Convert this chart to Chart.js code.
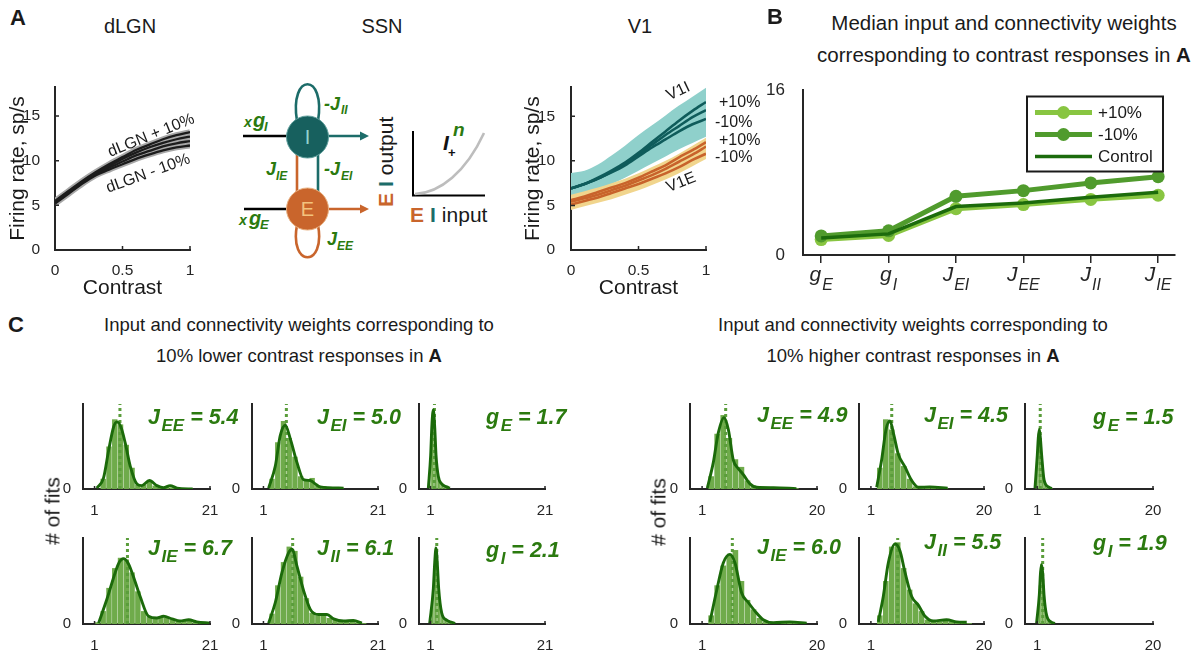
<!DOCTYPE html>
<html><head><meta charset="utf-8">
<script src="https://cdn.jsdelivr.net/npm/chart.js@4.4.1/dist/chart.umd.min.js"></script>
<style>
html,body{margin:0;padding:0;background:#fff;}
#fig{position:relative;width:1201px;height:650px;overflow:hidden;font-family:'Liberation Sans',Arial,Helvetica,sans-serif;color:#1a1a1a;background:#fff;}
#fig canvas{position:absolute;z-index:2;}
.t{position:absolute;white-space:nowrap;line-height:1;z-index:5;}
</style></head><body><div id="fig"></div>
<script>
// ================= DATA =================
// Panel A
const contrast = [0, 0.1, 0.2, 0.3, 0.4, 0.5, 0.6, 0.7, 0.8, 0.9, 1];
const aXTicks = [0, 0.5, 1];
const aYTicks = [0, 5, 10, 15];
const dlgnUp10 = [5.5, 6.6, 7.7, 8.7, 9.6, 10.4, 11.2, 11.8, 12.4, 12.85, 13.2];
const dlgnUp3  = [5.4, 6.5, 7.6, 8.6, 9.4, 10.2, 10.9, 11.5, 12.0, 12.4, 12.7];
const dlgnDn3  = [5.3, 6.4, 7.5, 8.5, 9.2, 9.9, 10.6, 11.1, 11.6, 11.95, 12.2];
const dlgnDn10 = [5.2, 6.3, 7.4, 8.35, 9.0, 9.6, 10.2, 10.7, 11.15, 11.5, 11.7];
const v1IBandUp = [8.65, 8.9, 9.6, 10.6, 11.7, 12.9, 14.0, 15.1, 16.2, 17.2, 18.2];
const v1IBandLo = [6.0, 6.3, 6.8, 7.4, 8.1, 8.9, 9.7, 10.5, 11.3, 12.0, 12.7];
const v1IPlus   = [6.9, 7.4, 8.1, 8.9, 9.8, 10.9, 12.1, 13.3, 14.5, 15.6, 16.6];
const v1ICtrl   = [6.9, 7.4, 8.0, 8.8, 9.7, 10.7, 11.8, 12.9, 13.9, 14.9, 15.7];
const v1IMinus  = [6.9, 7.4, 8.0, 8.7, 9.5, 10.5, 11.5, 12.4, 13.3, 14.1, 14.7];
const v1EBandUp = [6.2, 6.6, 7.0, 7.5, 8.0, 8.6, 9.3, 10.0, 10.8, 11.7, 12.6];
const v1EBandLo = [4.5, 4.9, 5.3, 5.7, 6.2, 6.7, 7.3, 7.9, 8.6, 9.4, 10.2];
const v1EPlus   = [5.6, 6.0, 6.5, 7.0, 7.5, 8.1, 8.8, 9.5, 10.4, 11.2, 12.1];
const v1ECtrl   = [5.4, 5.8, 6.2, 6.7, 7.2, 7.8, 8.4, 9.1, 9.9, 10.7, 11.6];
const v1EMinus  = [5.1, 5.5, 5.9, 6.4, 6.9, 7.4, 8.0, 8.6, 9.3, 10.1, 10.8];

// Panel B
const bCatMain = ['g', 'g', 'J', 'J', 'J', 'J'];
const bCatSub  = ['E', 'I', 'EI', 'EE', 'II', 'IE'];
const bYTicks  = [0, 16];
const bPlus10  = [1.5, 1.9, 4.5, 4.9, 5.4, 5.8];
const bMinus10 = [1.85, 2.35, 5.7, 6.25, 7.0, 7.6];
const bControl = [1.65, 2.05, 4.7, 5.05, 5.6, 6.1];

// Panel C
const paramMain = ['J', 'J', 'g', 'J', 'J', 'g'];
const paramSub  = ['EE', 'EI', 'E', 'IE', 'II', 'I'];
const medLower  = [5.4, 5.0, 1.7, 6.7, 6.1, 2.1];
const medHigher = [4.9, 4.5, 1.5, 6.0, 5.5, 1.9];
const cXTicksLower  = [1, 21];
const cXTicksHigher = [1, 20];
const cYTicks = [0];
const jBins = [0.5, 1.5, 2.5, 3.5, 4.5, 5.5, 6.5, 7.5, 8.5, 9.5, 10.5, 11.5, 12.5, 13.5, 14.5, 15.5, 16.5, 17.5, 18.5, 19.5, 20.5];
const gBins = [0.625, 0.875, 1.125, 1.375, 1.625, 1.875, 2.125, 2.375, 2.625, 2.875, 3.125, 3.375, 3.625, 3.875, 4.125, 4.375, 4.625, 4.875];

const lowJEEcnt = [0, 0, 0.12, 0.5, 0.82, 0.76, 0.52, 0.25, 0.05, 0.05, 0.09, 0.04, 0.02, 0.03, 0.02, 0.01, 0.01, 0.01, 0, 0, 0];
const lowJEEkx  = [1.4, 2.56, 3.43, 4.3, 4.88, 5.57, 6.32, 7.18, 8.34, 9.2, 10.5, 11.8, 12.95, 14.1, 15.3, 18];
const lowJEEky  = [0.01, 0.13, 0.45, 0.73, 0.79, 0.73, 0.54, 0.27, 0.06, 0.04, 0.10, 0.04, 0.015, 0.04, 0.01, 0];
const lowJEIcnt = [0, 0, 0.12, 0.55, 0.8, 0.6, 0.38, 0.15, 0.1, 0.13, 0.04, 0.03, 0.02, 0.02, 0.01, 0, 0, 0, 0, 0, 0];
const lowJEIkx  = [1.9, 3.07, 3.94, 4.81, 5.69, 6.86, 8.0, 9.18, 10.05, 10.9, 15.0];
const lowJEIky  = [0.01, 0.27, 0.63, 0.75, 0.59, 0.31, 0.11, 0.1, 0.06, 0.025, 0.01];
const lowGEcnt  = [0, 0.05, 0.5, 0.9, 0.85, 0.5, 0.25, 0.12, 0.08, 0.05, 0.04, 0.03, 0.03, 0.02, 0.01, 0, 0, 0];
const lowGEkx   = [0.63, 1.04, 1.25, 1.5, 1.75, 1.97, 2.37, 2.96, 3.83, 4.4];
const lowGEky   = [0.01, 0.4, 0.75, 0.93, 0.72, 0.4, 0.15, 0.06, 0.025, 0.01];
const lowJIEcnt = [0, 0.02, 0.15, 0.42, 0.65, 0.77, 0.75, 0.6, 0.38, 0.15, 0.08, 0.07, 0.08, 0.07, 0.05, 0.04, 0.04, 0.05, 0.03, 0.02, 0.01];
const lowJIEkx  = [1.7, 3.15, 4.59, 5.3, 6.03, 6.8, 7.48, 8.9, 10.35, 11.8, 12.95, 14.4, 15.8, 17.3, 18.7, 21];
const lowJIEky  = [0.01, 0.29, 0.6, 0.72, 0.76, 0.71, 0.6, 0.32, 0.09, 0.07, 0.09, 0.06, 0.035, 0.05, 0.025, 0.01];
const lowJIIcnt = [0, 0, 0.12, 0.45, 0.72, 0.9, 0.85, 0.55, 0.3, 0.13, 0.1, 0.12, 0.07, 0.05, 0.03, 0.03, 0.04, 0.02, 0.01, 0, 0];
const lowJIIkx  = [1.9, 3.07, 4.24, 5.4, 5.98, 6.86, 8.0, 9.18, 10.6, 12.1, 13.25, 15.0, 16.7, 18.2];
const lowJIIky  = [0.01, 0.25, 0.6, 0.83, 0.87, 0.67, 0.39, 0.17, 0.11, 0.11, 0.06, 0.035, 0.04, 0.01];
const lowGIcnt  = [0, 0, 0.05, 0.3, 0.65, 0.9, 0.8, 0.45, 0.25, 0.15, 0.08, 0.06, 0.05, 0.04, 0.03, 0.03, 0.02, 0.01];
const lowGIkx   = [0.87, 1.5, 1.75, 1.97, 2.2, 2.44, 2.96, 3.83, 4.7, 5.3];
const lowGIky   = [0.01, 0.41, 0.72, 0.88, 0.7, 0.41, 0.13, 0.045, 0.02, 0.005];

const hiJEEcnt = [0, 0, 0.15, 0.65, 0.87, 0.6, 0.35, 0.26, 0.1, 0.04, 0.02, 0.02, 0.02, 0.01, 0.01, 0.01, 0.01, 0, 0, 0, 0];
const hiJEEkx  = [1.86, 2.85, 3.68, 4.62, 5.34, 6.16, 6.99, 7.82, 8.92, 10.0, 12.8, 16.6];
const hiJEEky  = [0.01, 0.31, 0.66, 0.84, 0.7, 0.34, 0.24, 0.17, 0.06, 0.02, 0.015, 0.005];
const hiJEIcnt = [0, 0, 0.25, 0.82, 0.7, 0.42, 0.27, 0.12, 0.03, 0.02, 0.03, 0.02, 0.01, 0.01, 0, 0, 0, 0, 0, 0, 0];
const hiJEIkx  = [1.97, 2.8, 3.54, 4.2, 4.87, 5.6, 6.73, 7.85, 8.97, 10.9, 13.9];
const hiJEIky  = [0.02, 0.34, 0.7, 0.8, 0.63, 0.41, 0.26, 0.1, 0.02, 0.025, 0.01];
const hiGEcnt  = [0, 0.1, 0.55, 0.72, 0.45, 0.25, 0.12, 0.06, 0.04, 0.03, 0.02, 0.01, 0, 0, 0, 0, 0, 0];
const hiGEkx   = [0.64, 1.02, 1.18, 1.35, 1.52, 1.73, 2.12, 2.83, 3.4];
const hiGEky   = [0.01, 0.4, 0.6, 0.7, 0.6, 0.4, 0.11, 0.025, 0.005];
const hiJIEcnt = [0, 0, 0.1, 0.45, 0.68, 0.8, 0.86, 0.5, 0.28, 0.17, 0.07, 0.03, 0.02, 0.02, 0.02, 0.025, 0.02, 0.01, 0, 0, 0];
const hiJIEkx  = [2.3, 3.41, 4.5, 5.6, 6.44, 7.54, 8.64, 9.74, 11.1, 12.8, 15.5, 18.3];
const hiJIEky  = [0.025, 0.39, 0.71, 0.81, 0.71, 0.36, 0.25, 0.15, 0.05, 0.015, 0.025, 0.01];
const hiJIIcnt = [0, 0, 0.1, 0.5, 0.9, 0.95, 0.65, 0.4, 0.24, 0.15, 0.05, 0.03, 0.03, 0.05, 0.03, 0.02, 0.02, 0.01, 0, 0, 0];
const hiJIIkx  = [2.24, 3.08, 3.92, 5.05, 5.89, 6.73, 7.85, 8.97, 10.1, 11.5, 13.7, 15.4, 17.1];
const hiJIIky  = [0.025, 0.32, 0.71, 0.93, 0.85, 0.6, 0.32, 0.22, 0.09, 0.035, 0.05, 0.025, 0.02];
const hiGIcnt  = [0, 0, 0.12, 0.45, 0.7, 0.6, 0.35, 0.18, 0.1, 0.05, 0.04, 0.03, 0.02, 0, 0, 0, 0, 0];
const hiGIkx   = [0.9, 1.35, 1.55, 1.73, 1.92, 2.12, 2.55, 3.37, 3.9];
const hiGIky   = [0.01, 0.34, 0.6, 0.69, 0.58, 0.34, 0.1, 0.02, 0.005];

// ================= HELPERS =================
const FONT = "'Liberation Sans', Arial, Helvetica, sans-serif";
const fig = document.getElementById('fig');
Chart.defaults.font.family = FONT;
Chart.defaults.color = '#262626';
Chart.defaults.plugins.legend.display = false;
Chart.defaults.plugins.tooltip.enabled = false;

const inTicks = {
  id: 'inTicks',
  afterDraw(chart, args, opts) {
    if (!opts || !opts.len) return;
    const {ctx, chartArea: a, scales} = chart;
    ctx.save();
    ctx.strokeStyle = '#262626'; ctx.lineWidth = 1.5;
    ctx.beginPath();
    scales.x.ticks.forEach(t => { const p = scales.x.getPixelForValue(t.value); ctx.moveTo(p, a.bottom); ctx.lineTo(p, a.bottom - opts.len); });
    if (opts.y !== false) scales.y.ticks.forEach(t => { const p = scales.y.getPixelForValue(t.value); ctx.moveTo(a.left, p); ctx.lineTo(a.left + opts.len, p); });
    ctx.stroke(); ctx.restore();
  }
};
Chart.register(inTicks);

function pts(xs, ys) { return xs.map((x, i) => ({x: x, y: ys[i]})); }

function makeChart(box, area, cfg) {
  const c = document.createElement('canvas');
  c.width = box.w; c.height = box.h;
  c.style.left = box.x + 'px'; c.style.top = box.y + 'px';
  c.style.width = box.w + 'px'; c.style.height = box.h + 'px';
  fig.appendChild(c);
  const o = cfg.options;
  o.responsive = false; o.animation = false; o.devicePixelRatio = 1;
  o.layout = {padding: {left: 0, top: area.t - box.y, right: box.x + box.w - area.r, bottom: 0}};
  o.scales.x.afterFit = s => { s.height = box.y + box.h - area.b; };
  o.scales.y.afterFit = s => { s.width = area.l - box.x; };
  return new Chart(c, cfg);
}

function T(x, base, html, size, opt) {
  opt = opt || {};
  const d = document.createElement('div');
  d.className = 't';
  d.style.left = x + 'px';
  d.style.top = (base - 0.8465 * size) + 'px';
  d.style.fontSize = size + 'px';
  if (opt.bold) d.style.fontWeight = 'bold';
  if (opt.italic) d.style.fontStyle = 'italic';
  d.style.color = opt.color || '#1a1a1a';
  if (opt.center) d.style.transform = 'translateX(-50%)';
  d.innerHTML = html;
  fig.appendChild(d);
  return d;
}
function R(cx, cy, html, size, deg, opt) {
  opt = opt || {};
  const d = document.createElement('div');
  d.className = 't';
  d.style.left = cx + 'px'; d.style.top = cy + 'px';
  d.style.fontSize = size + 'px';
  d.style.color = opt.color || '#1a1a1a';
  d.style.transform = 'translate(-50%,-50%) rotate(' + deg + 'deg)';
  d.innerHTML = html;
  fig.appendChild(d);
}

const AX = {display: true, color: '#262626', width: 2};

function aScales(box, area, ytx, xty, ymax, ypad) {
  return {
    x: {type: 'linear', min: 0, max: 1, offset: false,
        afterBuildTicks: s => { s.ticks = aXTicks.map(v => ({value: v})); },
        ticks: {font: {size: 15.5}, padding: 3.6, maxRotation: 0, color: '#262626', callback: v => String(v)},
        grid: {display: false}, border: AX,
        title: {display: true, text: 'Contrast', color: '#1a1a1a', font: {size: 21, lineHeight: 1.2},
                padding: {top: 0, bottom: box.y + box.h - xty - 12.6}}},
    y: {type: 'linear', min: 0, max: ymax,
        afterBuildTicks: s => { s.ticks = aYTicks.map(v => ({value: v})); },
        ticks: {font: {size: 15.5}, padding: ypad, color: '#262626', callback: v => String(v)},
        grid: {display: false}, border: AX,
        title: {display: true, text: 'Firing rate, sp/s', color: '#1a1a1a', font: {size: 21, lineHeight: 1.2},
                padding: {top: ytx - box.x - 12.6, bottom: 0}}}
  };
}
function ln(data, color, w, order, extra) {
  return Object.assign({type: 'line', data: pts(contrast, data), borderColor: color, borderWidth: w,
    pointRadius: 0, fill: false, cubicInterpolationMode: 'monotone', order: order}, extra || {});
}

// ================= PANEL A: dLGN =================
(function () {
  const box = {x: 0, y: 70, w: 200, h: 240};
  const area = {l: 55, t: 87, r: 190, b: 250};
  const gray = '#a8a8a8', blk = '#1c1c1c';
  makeChart(box, area, {
    type: 'line',
    data: {datasets: [
      ln(dlgnUp10, gray, 6, 2), ln(dlgnUp3, gray, 6, 2), ln(dlgnDn3, gray, 6, 2), ln(dlgnDn10, gray, 6, 2),
      ln(dlgnUp10, blk, 2.3, 1), ln(dlgnUp3, blk, 2.3, 1), ln(dlgnDn3, blk, 2.3, 1), ln(dlgnDn10, blk, 2.3, 1)
    ]},
    options: {scales: aScales(box, area, 18, 288, 18.25, 7), plugins: {inTicks: {len: 4}}}
  });
})();

// ================= PANEL A: V1 =================
(function () {
  const box = {x: 510, y: 70, w: 206, h: 240};
  const area = {l: 571, t: 87, r: 706, b: 250};
  const teal = '#0f5c5b', orange = '#c8632b';
  makeChart(box, area, {
    type: 'line',
    data: {datasets: [
      ln(v1IBandUp, 'rgba(0,0,0,0)', 0, 6, {fill: '+1', backgroundColor: '#8fd0cb'}),
      ln(v1IBandLo, 'rgba(0,0,0,0)', 0, 6),
      ln(v1EBandUp, 'rgba(0,0,0,0)', 0, 5, {fill: '+1', backgroundColor: '#f1d58d'}),
      ln(v1EBandLo, 'rgba(0,0,0,0)', 0, 5),
      ln(v1IPlus, teal, 2.6, 3), ln(v1ICtrl, teal, 2.6, 3), ln(v1IMinus, teal, 2.6, 3),
      ln(v1EPlus, orange, 2.6, 2), ln(v1ECtrl, orange, 2.6, 2), ln(v1EMinus, orange, 2.6, 2)
    ]},
    options: {scales: aScales(box, area, 533, 288, 18.25, 8), plugins: {inTicks: {len: 4}}}
  });
})();

// ================= PANEL B =================
(function () {
  const box = {x: 760, y: 70, w: 430, h: 230};
  const area = {l: 803, t: 81.7, r: 1175, b: 255};
  const cHi = '#88c541', cLo = '#509b2d', cCtrl = '#1c6b0c';
  const legendRows = [
    {label: '+10%', color: cHi, w: 5, r: 6.5},
    {label: '-10%', color: cLo, w: 5, r: 6.5},
    {label: 'Control', color: cCtrl, w: 3.5, r: 0}
  ];
  const bPlugin = {
    id: 'bDeco',
    afterDraw(chart) {
      const {ctx, chartArea: a, scales: {x}} = chart;
      ctx.save();
      ctx.fillStyle = '#262626';
      ctx.textBaseline = 'alphabetic';
      bCatMain.forEach((m, i) => {
        const px = x.getPixelForValue(i);
        ctx.font = 'italic 21px ' + FONT; const w1 = ctx.measureText(m).width;
        ctx.font = 'italic 16px ' + FONT; const w2 = ctx.measureText(bCatSub[i]).width;
        const st = px - (w1 + 1 + w2) / 2;
        ctx.font = 'italic 21px ' + FONT; ctx.fillText(m, st, a.bottom + 26);
        ctx.font = 'italic 16px ' + FONT; ctx.fillText(bCatSub[i], st + w1 + 1, a.bottom + 35);
      });
      // legend box
      const L = a.right - 148, R2 = a.right - 12, Tp = a.top + 6.3, B = a.top + 81.3;
      ctx.fillStyle = '#fff'; ctx.fillRect(L, Tp, R2 - L, B - Tp);
      ctx.strokeStyle = '#1a1a1a'; ctx.lineWidth = 2; ctx.strokeRect(L, Tp, R2 - L, B - Tp);
      legendRows.forEach((r, k) => {
        const y = Tp + 16 + 22 * k;
        ctx.strokeStyle = r.color; ctx.lineWidth = r.w; ctx.lineCap = 'butt';
        ctx.beginPath(); ctx.moveTo(L + 8, y); ctx.lineTo(L + 65, y); ctx.stroke();
        if (r.r) { ctx.fillStyle = r.color; ctx.beginPath(); ctx.arc(L + 36.5, y, r.r, 0, Math.PI * 2); ctx.fill(); }
        ctx.fillStyle = '#1a1a1a'; ctx.font = '17px ' + FONT; ctx.textBaseline = 'middle';
        ctx.fillText(r.label, L + 71, y + 1);
      });
      ctx.restore();
    }
  };
  const idx = bPlus10.map((v, i) => i);
  makeChart(box, area, {
    type: 'line',
    data: {datasets: [
      {data: pts(idx, bControl), borderColor: cCtrl, borderWidth: 3.5, pointRadius: 0, order: 0},
      {data: pts(idx, bMinus10), borderColor: cLo, backgroundColor: cLo, borderWidth: 5, pointRadius: 6.5, pointBorderWidth: 0, order: 1},
      {data: pts(idx, bPlus10), borderColor: cHi, backgroundColor: cHi, borderWidth: 5, pointRadius: 6.5, pointBorderWidth: 0, order: 2}
    ]},
    options: {
      scales: {
        x: {type: 'linear', min: -0.27, max: 5.25, offset: false,
            afterBuildTicks: s => { s.ticks = idx.map(v => ({value: v})); },
            ticks: {display: false},
            grid: {display: true, drawOnChartArea: false, drawTicks: true, tickLength: 8, color: '#262626', lineWidth: 1.5},
            border: AX},
        y: {type: 'linear', min: 0, max: 16,
            afterBuildTicks: s => { s.ticks = bYTicks.map(v => ({value: v})); },
            ticks: {font: {size: 17}, padding: 10, color: '#262626', callback: v => String(v)},
            grid: {display: false}, border: AX}
      },
      plugins: {inTicks: {len: 0}}
    },
    plugins: [bPlugin]
  });
})();

// ================= PANEL C =================
function hist(area, xmax, xTicks, bins, counts, kx, ky, med) {
  const box = {x: area.l - 24, y: area.t - 4, w: area.r - area.l + 24 + 14, h: area.b - area.t + 4 + 26};
  makeChart(box, area, {
    type: 'line',
    data: {datasets: [
      {type: 'line', data: pts(kx, ky), borderColor: '#1b6a0a', borderWidth: 2.9, pointRadius: 0,
       cubicInterpolationMode: 'monotone', order: 1},
      {type: 'line', data: [{x: med, y: 0}, {x: med, y: 1}], borderColor: '#5a9d3b', borderWidth: 3,
       borderDash: [3, 3], pointRadius: 0, order: 2},
      {type: 'bar', data: pts(bins, counts), backgroundColor: '#6fab4b', barPercentage: 1,
       categoryPercentage: 0.94, order: 3}
    ]},
    options: {
      scales: {
        x: {type: 'linear', min: -1, max: xmax, offset: false,
            afterBuildTicks: s => { s.ticks = xTicks.map(v => ({value: v})); },
            ticks: {font: {size: 15}, padding: 5, maxRotation: 0, color: '#262626', callback: v => String(v)},
            grid: {display: false, offset: false}, border: AX},
        y: {type: 'linear', min: 0, max: 1,
            afterBuildTicks: s => { s.ticks = cYTicks.map(v => ({value: v})); },
            ticks: {font: {size: 15}, padding: 4, color: '#262626', callback: v => String(v)},
            grid: {display: false}, border: AX}
      },
      plugins: {inTicks: {len: 3, y: false}}
    }
  });
}
const rowsTB = [[395, 489], [529, 624]];
const colsLower = [[82.7, 210], [251.7, 377.7], [419, 545]];
const colsHigher = [[690, 817], [859, 984], [1025, 1153]];
const lowerSets = [
  [jBins, lowJEEcnt, lowJEEkx, lowJEEky], [jBins, lowJEIcnt, lowJEIkx, lowJEIky], [gBins, lowGEcnt, lowGEkx, lowGEky],
  [jBins, lowJIEcnt, lowJIEkx, lowJIEky], [jBins, lowJIIcnt, lowJIIkx, lowJIIky], [gBins, lowGIcnt, lowGIkx, lowGIky]
];
const higherSets = [
  [jBins, hiJEEcnt, hiJEEkx, hiJEEky], [jBins, hiJEIcnt, hiJEIkx, hiJEIky], [gBins, hiGEcnt, hiGEkx, hiGEky],
  [jBins, hiJIEcnt, hiJIEkx, hiJIEky], [jBins, hiJIIcnt, hiJIIkx, hiJIIky], [gBins, hiGIcnt, hiGIkx, hiGIky]
];
const lowerLabelPos = [[148, 425], [317, 425], [486, 425], [148, 556], [317, 556], [486, 558]];
const higherLabelPos = [[757, 423], [924, 423], [1093, 425], [757, 555], [924, 550], [1093, 551]];
const subHtml = s => '<span style="font-size:17px;position:relative;top:7px;margin-left:1.5px">' + s + '</span>';
for (let k = 0; k < 6; k++) {
  const r = Math.floor(k / 3), c = k % 3;
  const L = lowerSets[k], H = higherSets[k];
  hist({l: colsLower[c][0], r: colsLower[c][1], t: rowsTB[r][0], b: rowsTB[r][1]}, cXTicksLower[1], cXTicksLower, L[0], L[1], L[2], L[3], medLower[k]);
  hist({l: colsHigher[c][0], r: colsHigher[c][1], t: rowsTB[r][0], b: rowsTB[r][1]}, cXTicksHigher[1], cXTicksHigher, H[0], H[1], H[2], H[3], medHigher[k]);
  T(lowerLabelPos[k][0], lowerLabelPos[k][1], paramMain[k] + subHtml(paramSub[k]) + ' = ' + medLower[k].toFixed(1), 21.5, {bold: true, italic: true, color: '#2b7a0f'});
  T(higherLabelPos[k][0], higherLabelPos[k][1], paramMain[k] + subHtml(paramSub[k]) + ' = ' + medHigher[k].toFixed(1), 21.5, {bold: true, italic: true, color: '#2b7a0f'});
}

// ================= TEXT =================
T(10, 26, 'A', 22, {bold: true});
T(130, 33, 'dLGN', 20, {center: true});
T(382, 33, 'SSN', 20, {center: true});
T(640, 33, 'V1', 20, {center: true});
R(151, 135, 'dLGN + 10%', 16, -22);
R(148, 173, 'dLGN - 10%', 16, -20);
R(678, 91, 'V1I', 16, -25);
R(681, 182, 'V1E', 16, -22);
T(719, 107.5, '+10%', 16);
T(715, 127.5, '-10%', 16);
T(719, 146, '+10%', 16);
T(715, 162.5, '-10%', 16);
T(767, 25, 'B', 22, {bold: true});
T(1004, 30, 'Median input and connectivity weights', 20.5, {center: true});
T(1004, 62, 'corresponding to contrast responses in <b>A</b>', 20.5, {center: true});
T(8, 333, 'C', 22, {bold: true});
T(299, 332, 'Input and connectivity weights corresponding to', 18.5, {center: true});
T(299, 363, '10% lower contrast responses in <b>A</b>', 18.5, {center: true});
T(913, 332, 'Input and connectivity weights corresponding to', 18.5, {center: true});
T(913, 363, '10% higher contrast responses in <b>A</b>', 18.5, {center: true});
R(52, 511, '# of fits', 21, -90);
R(658, 512, '# of fits', 21, -90);
</script>
<svg width="1201" height="650" style="position:absolute;left:0;top:0;z-index:1" font-family="'Liberation Sans', Arial, Helvetica, sans-serif">
  <g fill="none" stroke-width="2.6">
    <path d="M297 121 C289 72,326 72,318 121" stroke="#1c6c69"/>
    <path d="M297 225 C289 268,326 268,318 225" stroke="#c9652c"/>
    <line x1="297" y1="150" x2="297" y2="196" stroke="#c9652c"/>
    <line x1="318" y1="150" x2="318" y2="196" stroke="#1c6c69"/>
    <line x1="243" y1="136" x2="288" y2="136" stroke="#000"/>
    <line x1="244" y1="209" x2="288" y2="209" stroke="#000"/>
    <line x1="327" y1="136" x2="362" y2="136" stroke="#1c6c69"/>
    <line x1="327" y1="209" x2="362" y2="209" stroke="#c9652c"/>
  </g>
  <polygon points="360,131.5 369,136 360,140.5" fill="#1c6c69"/>
  <polygon points="360,204.5 369,209 360,213.5" fill="#c9652c"/>
  <circle cx="307.5" cy="137" r="21" fill="#17605e" stroke="#5f9f9c" stroke-width="1"/>
  <circle cx="307.5" cy="209" r="21" fill="#c9652c" stroke="#e8b080" stroke-width="1"/>
  <text x="307.5" y="144" font-size="20" fill="#93d3cf" text-anchor="middle">I</text>
  <text x="307.5" y="216" font-size="20" fill="#f3c27e" text-anchor="middle">E</text>
  <g fill="#2b7a0f" font-weight="bold" font-style="italic">
    <text x="244" y="127" font-size="14">x</text>
    <text x="253" y="127" font-size="20">g</text>
    <text x="264" y="131" font-size="13">I</text>
    <text x="324" y="110" font-size="18">-J</text>
    <text x="341" y="114" font-size="12">II</text>
    <text x="266" y="175" font-size="18">J</text>
    <text x="276" y="180" font-size="12">IE</text>
    <text x="324" y="175" font-size="18">-J</text>
    <text x="341" y="180" font-size="12">EI</text>
    <text x="239" y="225" font-size="14">x</text>
    <text x="249" y="225" font-size="20">g</text>
    <text x="260" y="229" font-size="13">E</text>
    <text x="327" y="245" font-size="18">J</text>
    <text x="337" y="250" font-size="12">EE</text>
  </g>
  <text transform="translate(393,207) rotate(-90)" font-size="21"><tspan fill="#c9652c" font-weight="bold">E</tspan><tspan fill="#1c6c69" font-weight="bold" dx="6">I</tspan><tspan fill="#1a1a1a" dx="6">output</tspan></text>
  <g stroke="#000" stroke-width="2" fill="none">
    <line x1="413" y1="131" x2="413" y2="196"/>
    <line x1="412" y1="195.5" x2="485" y2="195.5"/>
  </g>
  <path d="M415 194 C440 193,466 172,484 133" fill="none" stroke="#bdbdbd" stroke-width="2.6"/>
  <text x="443" y="150" font-size="21" font-weight="bold" font-style="italic" fill="#111">I</text>
  <text x="448" y="157" font-size="13" font-weight="bold" fill="#111">+</text>
  <text x="453" y="136" font-size="19" font-weight="bold" font-style="italic" fill="#2b7a0f">n</text>
  <text x="410" y="222" font-size="21"><tspan fill="#c9652c" font-weight="bold">E</tspan><tspan fill="#1c6c69" font-weight="bold" dx="6">I</tspan><tspan fill="#1a1a1a" dx="6">input</tspan></text>
</svg>
</body></html>
